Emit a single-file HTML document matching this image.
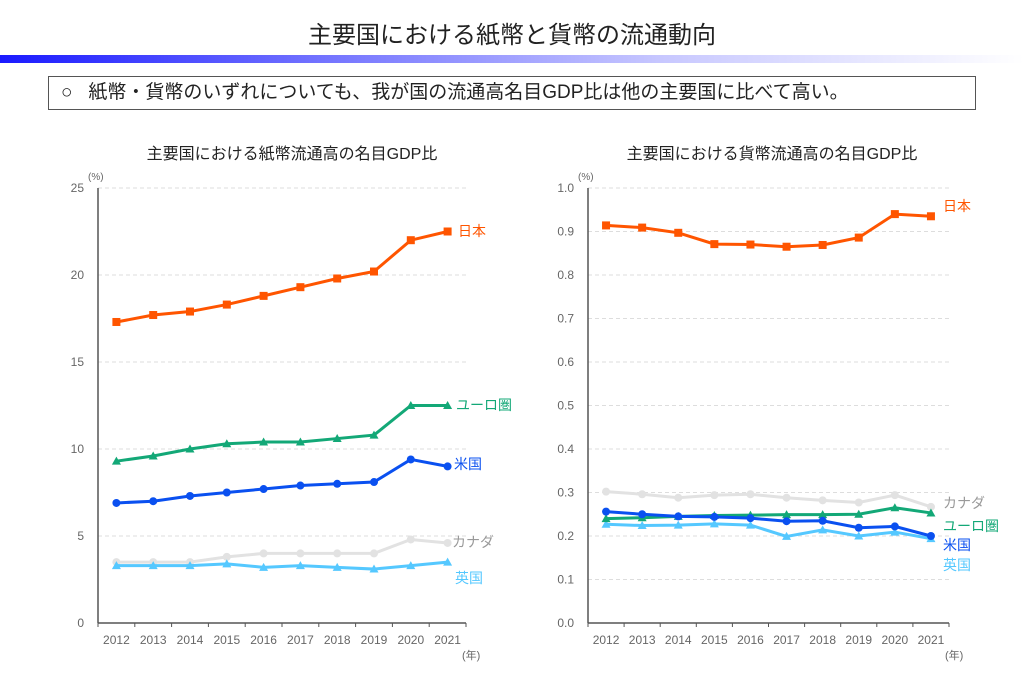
<!DOCTYPE html>
<html><head><meta charset="utf-8"><style>
body{margin:0;width:1024px;height:673px;background:#fff;font-family:"Liberation Sans","Noto Sans CJK JP",sans-serif;overflow:hidden;position:relative}
.t{position:absolute;left:0;width:1024px;top:15px;text-align:center;font-size:24px;color:#222}
.bar{position:absolute;left:0;top:55px;width:1024px;height:8px;background:linear-gradient(90deg,#1a1aff 0%,#6f6fff 30%,#c8c8ff 65%,#fff 100%)}
.box{position:absolute;left:48px;top:76px;width:928px;height:34px;border:1px solid #555;box-sizing:border-box;font-size:19px;line-height:32px;padding-left:12px;color:#222;white-space:nowrap}
</style></head><body>
<div class="t">主要国における紙幣と貨幣の流通動向</div>
<div class="bar"></div>
<div class="box">○&nbsp;&nbsp; 紙幣・貨幣のいずれについても、我が国の流通高名目GDP比は他の主要国に比べて高い。</div>
<svg id="s" width="1024" height="673" style="position:absolute;left:0;top:0" font-family="Liberation Sans, Noto Sans CJK JP, sans-serif"></svg>
<script>
var S=document.getElementById('s'),h='';
function chart(o){
 var x0=o.x0,x1=o.x1,y0=623,yt=188,cw=(x1-x0)/10;
 h+='<text x="'+o.tx+'" y="159" text-anchor="middle" font-size="16" fill="#222">'+o.title+'</text>';
 h+='<text x="'+(x0-10)+'" y="180" font-size="10" fill="#666">(%)</text>';
 for(var i=0;i<o.ticks.length;i++){var y=y0-(yt-y0)*-i/(o.ticks.length-1);
  if(i>0)h+='<line x1="'+x0+'" x2="'+x1+'" y1="'+y+'" y2="'+y+'" stroke="#ddd" stroke-dasharray="4,3"/>';
  h+='<text x="'+(x0-14)+'" y="'+(y+4)+'" text-anchor="end" font-size="12" fill="#666">'+o.ticks[i]+'</text>';}
 h+='<line x1="'+x0+'" x2="'+x0+'" y1="'+yt+'" y2="'+y0+'" stroke="#555" stroke-width="1.5"/>';
 h+='<line x1="'+x0+'" x2="'+x1+'" y1="'+y0+'" y2="'+y0+'" stroke="#555" stroke-width="1.5"/>';
 for(var i=0;i<=10;i++){var x=x0+i*cw;h+='<line x1="'+x+'" x2="'+x+'" y1="'+y0+'" y2="'+(y0+4)+'" stroke="#555"/>';
  if(i<10)h+='<text x="'+(x+cw/2)+'" y="'+(y0+21)+'" text-anchor="middle" font-size="12" fill="#666">'+(2012+i)+'</text>';}
 h+='<text x="'+(x1-4)+'" y="'+(y0+36)+'" font-size="11" fill="#666">(年)</text>';
 o.series.forEach(function(s){
  var pts=s.d.map(function(v,i){return [x0+cw*(i+0.5),y0-(y0-yt)*v/o.max]});
  h+='<polyline fill="none" stroke="'+s.c+'" stroke-width="3" points="'+pts.map(function(p){return p.join(',')}).join(' ')+'"/>';
  pts.forEach(function(p){
   if(s.m=='s')h+='<rect x="'+(p[0]-4)+'" y="'+(p[1]-4)+'" width="8" height="8" fill="'+s.c+'"/>';
   else if(s.m=='c')h+='<circle cx="'+p[0]+'" cy="'+p[1]+'" r="4" fill="'+s.c+'"/>';
   else h+='<polygon points="'+(p[0]-4.5)+','+(p[1]+3.5)+' '+(p[0]+4.5)+','+(p[1]+3.5)+' '+p[0]+','+(p[1]-4.5)+'" fill="'+s.c+'"/>';});
  h+='<text x="'+s.lx+'" y="'+s.ly+'" font-size="14" fill="'+(s.lc||s.c)+'">'+s.n+'</text>';});
}
chart({x0:98,x1:466,tx:292,title:'主要国における紙幣流通高の名目GDP比',max:25,ticks:[0,5,10,15,20,25],series:[
{n:'カナダ',c:'#e2e2e2',lc:'#999',m:'c',lx:452,ly:547,d:[3.5,3.5,3.5,3.8,4.0,4.0,4.0,4.0,4.8,4.6]},
{n:'英国',c:'#55c8ff',m:'t',lx:455,ly:583,d:[3.3,3.3,3.3,3.4,3.2,3.3,3.2,3.1,3.3,3.5]},
{n:'米国',c:'#0a50f0',m:'c',lx:454,ly:469,d:[6.9,7.0,7.3,7.5,7.7,7.9,8.0,8.1,9.4,9.0]},
{n:'ユーロ圏',c:'#13a877',m:'t',lx:456,ly:410,d:[9.3,9.6,10.0,10.3,10.4,10.4,10.6,10.8,12.5,12.5]},
{n:'日本',c:'#ff5500',m:'s',lx:458,ly:236,d:[17.3,17.7,17.9,18.3,18.8,19.3,19.8,20.2,22.0,22.5]}]});
chart({x0:588,x1:949,tx:772,title:'主要国における貨幣流通高の名目GDP比',max:1,ticks:['0.0','0.1','0.2','0.3','0.4','0.5','0.6','0.7','0.8','0.9','1.0'],series:[
{n:'カナダ',c:'#e2e2e2',lc:'#999',m:'c',lx:943,ly:508,d:[.302,.296,.288,.294,.296,.288,.282,.277,.294,.267]},
{n:'英国',c:'#55c8ff',m:'t',lx:943,ly:570,d:[.227,.224,.225,.228,.225,.199,.214,.200,.209,.194]},
{n:'ユーロ圏',c:'#13a877',m:'t',lx:943,ly:531,d:[.240,.242,.245,.247,.248,.249,.249,.250,.265,.253]},
{n:'米国',c:'#0a50f0',m:'c',lx:943,ly:550,d:[.256,.250,.245,.244,.241,.234,.235,.219,.222,.200]},
{n:'日本',c:'#ff5500',m:'s',lx:943,ly:211,d:[.914,.909,.897,.871,.870,.865,.869,.886,.940,.935]}]});
S.innerHTML=h;
</script>
</body></html>
